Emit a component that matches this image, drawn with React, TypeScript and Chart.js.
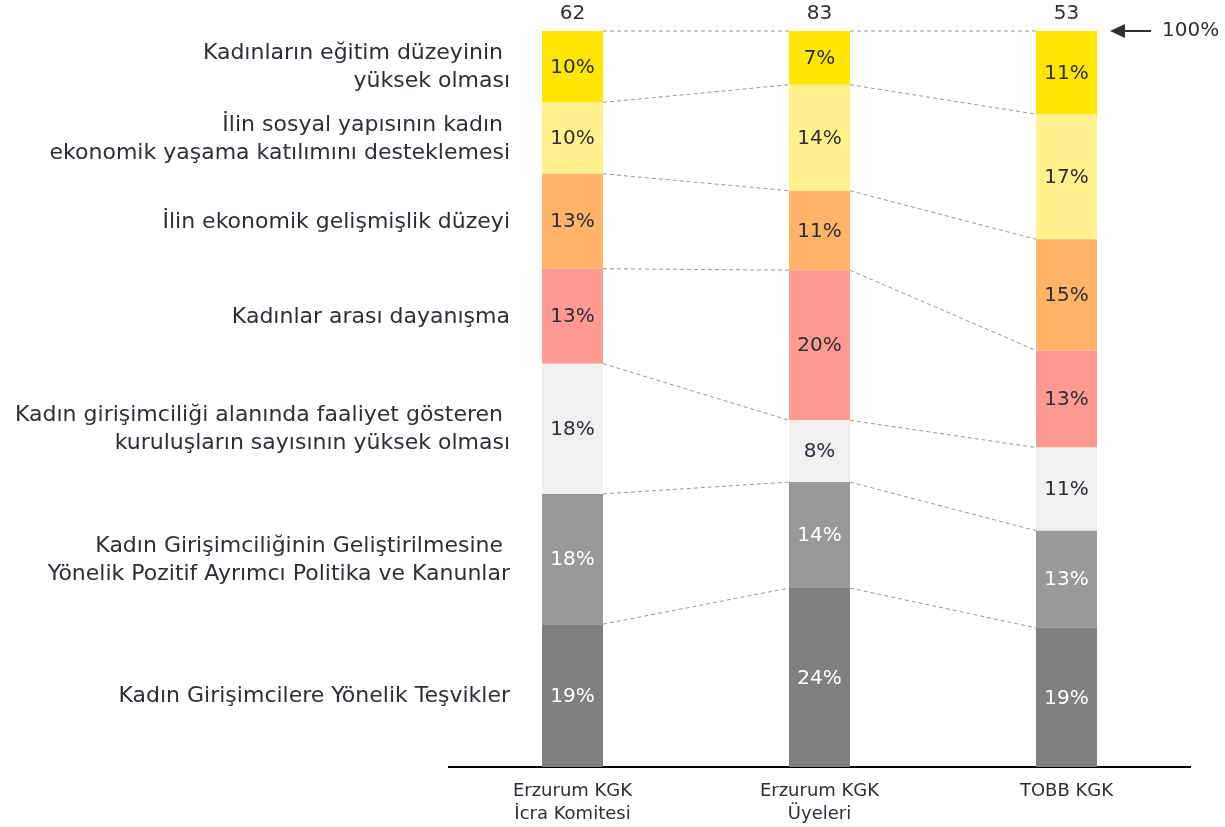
import React, { useEffect, useRef } from "react";
import { Chart, registerables } from "chart.js";

Chart.register(...registerables);

const categories: string[][] = [["Erzurum KGK", "İcra Komitesi"], ["Erzurum KGK", "Üyeleri"], ["TOBB KGK"]];
const respondents = [62, 83, 53];

// factors listed bottom-to-top (stack order)
const factorLabels: string[][] = [
  ["Kadın Girişimcilere Yönelik Teşvikler"],
  ["Kadın Girişimciliğinin Geliştirilmesine ", "Yönelik Pozitif Ayrımcı Politika ve Kanunlar"],
  ["Kadın girişimciliği alanında faaliyet gösteren ", "kuruluşların sayısının yüksek olması"],
  ["Kadınlar arası dayanışma"],
  ["İlin ekonomik gelişmişlik düzeyi"],
  ["İlin sosyal yapısının kadın ", "ekonomik yaşama katılımını desteklemesi"],
  ["Kadınların eğitim düzeyinin ", "yüksek olması"],
];

const tesvikler = [19.4, 24.3, 18.9];
const pozitifPolitika = [17.7, 14.4, 13.2];
const kuruluslar = [17.7, 8.4, 11.3];
const dayanisma = [12.9, 20.4, 13.2];
const ekonomikGelisme = [12.9, 10.8, 15.1];
const sosyalYapi = [9.7, 14.4, 17.0];
const egitimDuzeyi = [9.7, 7.3, 11.3];

const seriesValues = [tesvikler, pozitifPolitika, kuruluslar, dayanisma, ekonomikGelisme, sosyalYapi, egitimDuzeyi];
const seriesColors = ["#808080", "#999999", "#F0F0F0", "#FF9A91", "#FFB46A", "#FFF28D", "#FFE600"];
const labelColors = ["#FFFFFF", "#FFFFFF", "#2E2E38", "#2E2E38", "#2E2E38", "#2E2E38", "#2E2E38"];

const FONT = "'DejaVu Sans', sans-serif";
const TEXT = "#2E2E38";

const overlayPlugin = {
  id: "overlay",
  beforeDatasetsDraw(chart: any) {
    const ctx = chart.ctx;
    ctx.save();
    ctx.strokeStyle = "#9A9A9A";
    ctx.lineWidth = 1;
    ctx.setLineDash([4, 3]);
    for (let d = 0; d < seriesValues.length; d++) {
      const meta = chart.getDatasetMeta(d);
      for (let i = 0; i < meta.data.length - 1; i++) {
        const a: any = meta.data[i];
        const b: any = meta.data[i + 1];
        ctx.beginPath();
        ctx.moveTo(a.x + a.width / 2, a.y);
        ctx.lineTo(b.x - b.width / 2, b.y);
        ctx.stroke();
      }
    }
    ctx.restore();
  },
  afterDatasetsDraw(chart: any) {
    const ctx = chart.ctx;
    ctx.save();
    ctx.textBaseline = "middle";
    // percentage labels
    ctx.font = `20px ${FONT}`;
    ctx.textAlign = "center";
    for (let d = 0; d < seriesValues.length; d++) {
      const meta = chart.getDatasetMeta(d);
      meta.data.forEach((el: any, i: number) => {
        ctx.fillStyle = labelColors[d];
        ctx.fillText(Math.round(seriesValues[d][i]) + "%", el.x, (el.y + el.base) / 2 + 1);
      });
    }
    // left factor labels aligned with first bar segments
    ctx.font = `22px ${FONT}`;
    ctx.textAlign = "right";
    ctx.fillStyle = TEXT;
    const lh = 28;
    for (let d = 0; d < factorLabels.length; d++) {
      const el: any = chart.getDatasetMeta(d).data[0];
      const cy = (el.y + el.base) / 2;
      const lines = factorLabels[d];
      const x = el.x - el.width / 2 - 32;
      lines.forEach((t, k) => {
        ctx.fillText(t, x, cy + 1 + (k - (lines.length - 1) / 2) * lh);
      });
    }
    // respondent counts
    ctx.font = `20px ${FONT}`;
    ctx.textAlign = "center";
    const top = chart.scales.y.getPixelForValue(100);
    chart.getDatasetMeta(seriesValues.length - 1).data.forEach((el: any, i: number) => {
      ctx.fillText(String(respondents[i]), el.x, top - 17);
    });
    // 100% arrow
    const ax = chart.chartArea.right - 80;
    ctx.strokeStyle = TEXT;
    ctx.lineWidth = 2;
    ctx.beginPath();
    ctx.moveTo(ax + 10, top);
    ctx.lineTo(ax + 41, top);
    ctx.stroke();
    ctx.beginPath();
    ctx.moveTo(ax, top);
    ctx.lineTo(ax + 15, top - 7);
    ctx.lineTo(ax + 15, top + 7);
    ctx.closePath();
    ctx.fill();
    ctx.textAlign = "left";
    ctx.fillText("100%", ax + 52, top);
    ctx.restore();
  },
};

export default function App() {
  const ref = useRef<HTMLCanvasElement | null>(null);
  useEffect(() => {
    if (!ref.current) return;
    const chart = new Chart(ref.current, {
      type: "bar",
      data: {
        labels: categories,
        datasets: seriesValues.map((vals, d) => ({
          label: factorLabels[d].join(" "),
          data: vals,
          backgroundColor: seriesColors[d],
          borderWidth: 0,
          barPercentage: 0.247,
          categoryPercentage: 1,
        })),
      },
      options: {
        animation: false,
        responsive: false,
        maintainAspectRatio: false,
        layout: { padding: { left: 449, right: 35, top: 31, bottom: -12 } },
        plugins: { legend: { display: false }, tooltip: { enabled: false } },
        scales: {
          x: {
            stacked: true,
            grid: { display: false, drawTicks: false },
            border: { display: true, color: "#000000", width: 2 },
            ticks: {
              color: TEXT,
              font: { family: FONT, size: 18, lineHeight: 1.28 },
              padding: 13,
              maxRotation: 0,
              autoSkip: false,
            },
          },
          y: { stacked: true, display: false, min: 0, max: 100 },
        },
      },
      plugins: [overlayPlugin],
    });
    return () => chart.destroy();
  }, []);
  return (
    <div style={{ position: "fixed", left: 0, top: 0, width: 1225, height: 827, background: "#fff" }}>
      <canvas ref={ref} width={1225} height={827} />
    </div>
  );
}
